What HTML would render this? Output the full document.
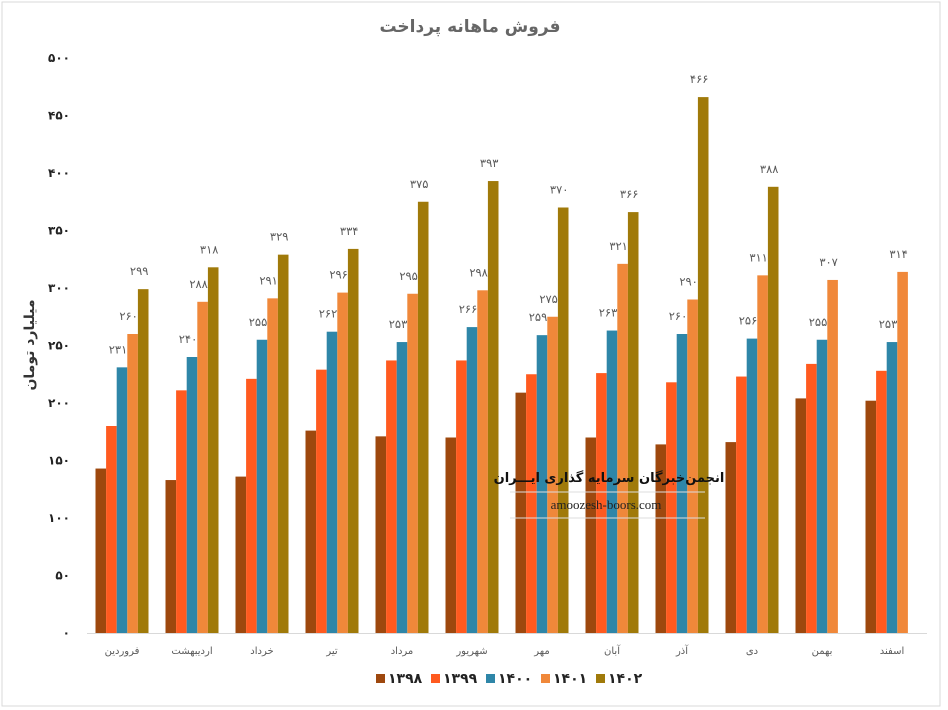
<!DOCTYPE html>
<html><head><meta charset="utf-8">
<style>
body{margin:0;background:#fff;font-family:"Liberation Sans","DejaVu Sans",sans-serif;}
#wrap{position:relative;width:948px;height:710px;overflow:hidden;}
</style></head>
<body>
<div id="wrap">
<svg id="chart" width="948" height="710">
<rect x="2" y="2" width="938" height="704" fill="#fff" stroke="#d9d9d9"/>
<text x="470" y="32" text-anchor="middle" font-size="17" font-weight="bold" fill="#666" font-family="'DejaVu Sans',sans-serif">فروش ماهانه پرداخت</text>
<text transform="translate(34,345) rotate(-90)" text-anchor="middle" font-size="14" font-weight="bold" fill="#333" font-family="'DejaVu Sans',sans-serif">میلیارد تومان</text>
<g id="ticks"></g><g id="bars"></g><g id="cats"></g>
<g>
<text x="609" y="482" text-anchor="middle" font-size="13" font-weight="bold" fill="#111" font-family="'DejaVu Sans',sans-serif">انجمن‌خبرگان سرمایه گذاری ایـــران</text>
<line x1="510" y1="492" x2="705" y2="492" stroke="#ddd"/>
<text x="606" y="509" text-anchor="middle" font-size="13" fill="#222" font-family="'Liberation Serif',serif">amoozesh-boors.com</text>
<line x1="510" y1="518" x2="705" y2="518" stroke="#ddd"/>
</g>
<g id="legend"></g>
</svg>
</div>
<script>
const categories=["فروردین","اردیبهشت","خرداد","تیر","مرداد","شهریور","مهر","آبان","آذر","دی","بهمن","اسفند"];
const seriesNames=["1398","1399","1400","1401","1402"];
const s1398=[143,133,136,176,171,170,209,170,164,166,204,202];
const s1399=[180,211,221,229,237,237,225,226,218,223,234,228];
const s1400=[231,240,255,262,253,266,259,263,260,256,255,253];
const s1401=[260,288,291,296,295,298,275,321,290,311,307,314];
const s1402=[299,318,329,334,375,393,370,366,466,388,null,null];
const yTicks=[0,50,100,150,200,250,300,350,400,450,500];
const colors=["#9E480E","#FF5A1F","#2E86A8","#F0883A","#A07A0A"];
const series=[s1398,s1399,s1400,s1401,s1402];
const labeled=[false,false,true,true,true];
const NS="http://www.w3.org/2000/svg";
const y0=633,y1=58,x0=87,step=70,bw=10.6;
function y(v){return y0-(v/500)*(y0-y1);}
function fa(n){return String(n).replace(/\d/g,d=>"۰۱۲۳۴۵۶۷۸۹"[d]);}
function mk(tag,attrs,parent){const e=document.createElementNS(NS,tag);for(const k in attrs)e.setAttribute(k,attrs[k]);parent.appendChild(e);return e;}
const T=document.getElementById("ticks"),B=document.getElementById("bars"),C=document.getElementById("cats"),L=document.getElementById("legend");
yTicks.forEach(v=>{const t=mk("text",{x:70,y:y(v)+4,"text-anchor":"end","font-size":12,"font-weight":"bold",fill:"#222","font-family":"'DejaVu Sans',sans-serif"},T);t.textContent=fa(v);

});
mk("line",{x1:x0,y1:y0+0.5,x2:x0+12*step,y2:y0+0.5,stroke:"#d9d9d9"},T);
categories.forEach((c,i)=>{const cx=x0+step*i+step/2;
const t=mk("text",{x:cx,y:654,"text-anchor":"middle","font-size":10,fill:"#595959","font-family":"'DejaVu Sans',sans-serif"},C);t.textContent=c;


series.forEach((s,j)=>{const v=s[i];if(v==null)return;
const bx=cx-2.5*bw+j*bw;
const r=mk("rect",{x:bx,y:y(v),width:bw,height:y0-y(v),fill:colors[j]},B);


if(labeled[j]){const lt=mk("text",{x:bx+bw/2-4,y:y(v)-14,"text-anchor":"middle","font-size":11.5,fill:"#595959","font-family":"'DejaVu Sans',sans-serif"},B);lt.textContent=fa(v);

}
});});
seriesNames.forEach((n,j)=>{const lx=376+j*55;
const g=mk("g",{},L);


mk("rect",{x:lx,y:674,width:9,height:9,fill:colors[j]},g);
const t=mk("text",{x:lx+12,y:683,"font-size":14,"font-weight":"bold",fill:"#222","font-family":"'DejaVu Sans',sans-serif"},g);t.textContent=fa(n);});
</script>
</body></html>
